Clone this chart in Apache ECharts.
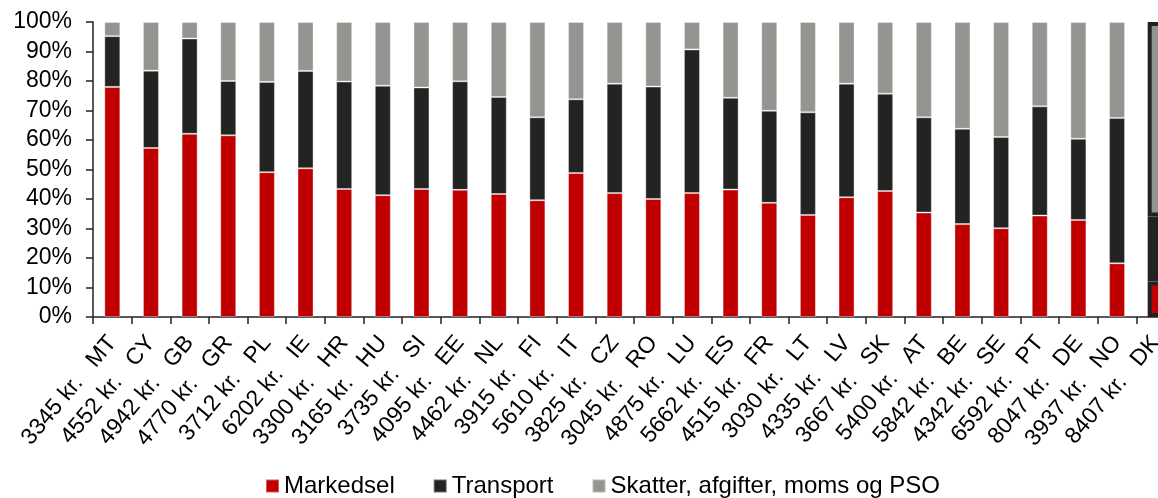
<!DOCTYPE html>
<html>
<head>
<meta charset="utf-8">
<title>Elpris fordelt på komponenter</title>
<script src="https://cdn.jsdelivr.net/npm/echarts@6/dist/echarts.min.js"></script>
<style>
  html, body { margin: 0; padding: 0; background: #ffffff; }
  #chart { width: 1158px; height: 498px; }
</style>
</head>
<body>
<div id="chart"></div>
<script>
// Country codes and the annual price (kr.) shown next to each code
const countries = ['MT','CY','GB','GR','PL','IE','HR','HU','SI','EE','NL','FI','IT','CZ',
                   'RO','LU','ES','FR','LT','LV','SK','AT','BE','SE','PT','DE','NO','DK'];
const prices = [3345,4552,4942,4770,3712,6202,3300,3165,3735,4095,4462,3915,5610,3825,
                3045,4875,5662,4515,3030,4335,3667,5400,5842,4342,6592,8047,3937,8407];

// Share of the price (%) by component
const markedsel = [78.0,57.3,62.1,61.6,49.1,50.4,43.4,41.3,43.4,43.1,41.7,39.6,48.8,42.0,
                   40.0,42.0,43.2,38.7,34.6,40.6,42.7,35.4,31.5,30.1,34.4,32.9,18.2,12.0];
const transport = [17.2,26.2,32.3,18.4,30.6,33.0,36.4,37.1,34.4,36.8,32.9,28.1,25.0,37.1,
                   38.1,48.7,31.1,31.2,34.8,38.5,33.0,32.3,32.3,30.9,37.0,27.5,49.3,22.1];
const skatter   = [ 4.8,16.5, 5.6,20.0,20.3,16.6,20.2,21.6,22.2,20.1,25.4,32.3,26.2,20.9,
                   21.9, 9.3,25.7,30.1,30.6,20.9,24.3,32.3,36.2,39.0,28.6,39.6,32.5,65.9];

const seriesNames = ['Markedsel', 'Transport', 'Skatter, afgifter, moms og PSO'];
const yTicks = [0,10,20,30,40,50,60,70,80,90,100];

// Denmark is framed to stand out from the other countries
const highlighted = 'DK';

const FONT = "'Liberation Sans', Arial, Helvetica, sans-serif";
const colors = ['#c00000', '#232322', '#949490'];

function buildData(values) {
  return values.map((v, i) => countries[i] === highlighted
    ? { value: v, itemStyle: { borderColor: '#222222', borderWidth: 4 } }
    : v);
}

const categories = countries.map((c, i) => prices[i] + ' kr.   ' + c);

const chart = echarts.init(document.getElementById('chart'), null, { renderer: 'canvas' });

chart.setOption({
  animation: false,
  backgroundColor: '#ffffff',
  color: colors,
  textStyle: { fontFamily: FONT },
  // the plot runs past the right edge, so the last column is only partly visible
  grid: { left: 93, top: 22, width: 1082, height: 295, containLabel: false, outerBoundsMode: 'none' },
  legend: {
    data: seriesNames,
    left: 265,
    top: 474,
    padding: 0,
    icon: 'rect',
    itemWidth: 13,
    itemHeight: 13,
    itemGap: 38,
    textStyle: { fontFamily: FONT, fontSize: 24, color: '#000000' },
    selectedMode: false
  },
  xAxis: {
    type: 'category',
    data: categories,
    axisLine: { lineStyle: { color: '#222222', width: 1.5 } },
    axisTick: { show: true, length: 7, lineStyle: { color: '#222222', width: 1.5 } },
    axisLabel: {
      interval: 0,
      rotate: 50,
      margin: 22,
      fontFamily: FONT,
      fontSize: 23,
      color: '#000000'
    },
    splitLine: { show: false }
  },
  yAxis: {
    type: 'value',
    min: yTicks[0],
    max: yTicks[yTicks.length - 1],
    interval: yTicks[1] - yTicks[0],
    axisLine: { show: true, lineStyle: { color: '#222222', width: 1.5 } },
    axisTick: { show: true, length: 7, lineStyle: { color: '#222222', width: 1.5 } },
    axisLabel: {
      margin: 21,
      fontFamily: FONT,
      fontSize: 23,
      color: '#000000',
      formatter: '{value}%'
    },
    splitLine: { show: false }
  },
  series: [markedsel, transport, skatter].map((vals, k) => ({
    name: seriesNames[k],
    type: 'bar',
    stack: 'andel',
    barWidth: 16,
    itemStyle: { color: colors[k], borderColor: 'rgba(255,255,255,0.35)', borderWidth: 1 },
    emphasis: { disabled: true },
    data: buildData(vals)
  }))
});
</script>
</body>
</html>
